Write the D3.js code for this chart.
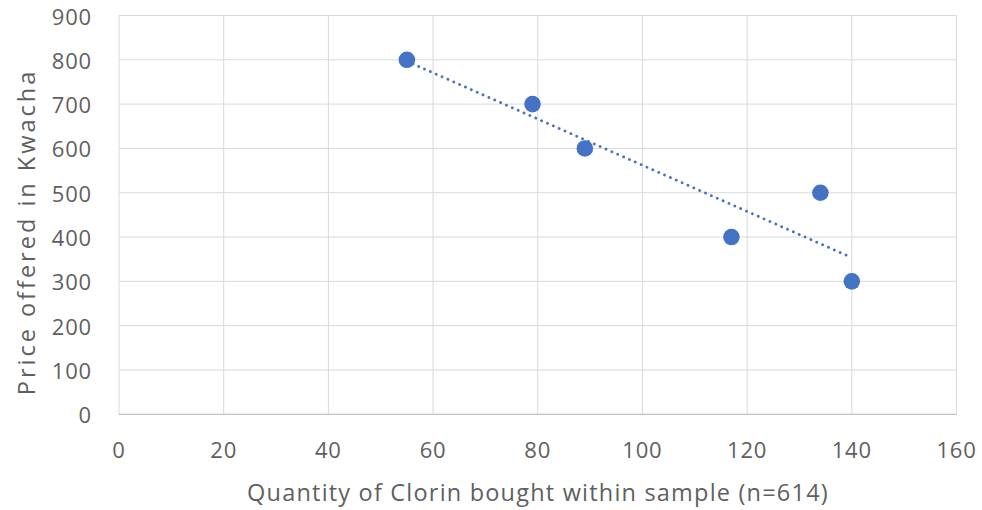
<!DOCTYPE html>
<html><head><meta charset="utf-8">
<script src="https://cdn.jsdelivr.net/npm/d3@7"></script>
<style>body{margin:0;background:#fff;} text{font-family:"Open Sans","Segoe UI",sans-serif;fill:#5f5f5f;}</style>
</head><body><svg id="c" width="982" height="510"></svg>
<script>
const quantity = [55, 79, 89, 117, 134, 140];
const price = [800, 700, 600, 400, 500, 300];
const xTicks = [0, 20, 40, 60, 80, 100, 120, 140, 160];
const yTicks = [0, 100, 200, 300, 400, 500, 600, 700, 800, 900];
const xTitle = "Quantity of Clorin bought within sample (n=614)";
const yTitle = "Price offered in Kwacha";

const svg = d3.select("#c");
const L = 119, R = 956.5, T = 15.5, B = 414.3;
const x = d3.scaleLinear().domain([0, 160]).range([L, R]);
const y = d3.scaleLinear().domain([0, 900]).range([B, T]);

const grid = svg.append("g");
grid.selectAll(".vx").data(xTicks).join("line")
  .attr("x1", d => x(d)).attr("x2", d => x(d)).attr("y1", T).attr("y2", B)
  .attr("stroke", "#d9d9d9").attr("stroke-width", 1);
grid.selectAll(".hy").data(yTicks).join("line")
  .attr("y1", d => y(d)).attr("y2", d => y(d)).attr("x1", L).attr("x2", R)
  .attr("stroke", "#d9d9d9").attr("stroke-width", 1);
svg.append("line").attr("x1", L).attr("x2", R).attr("y1", B).attr("y2", B).attr("stroke", "#bfbfbf");

svg.selectAll(".xl").data(xTicks).join("text")
  .attr("x", d => x(d)).attr("y", 458).attr("text-anchor", "middle")
  .attr("font-size", 22).attr("letter-spacing", 0.8).text(d => d);
svg.selectAll(".yl").data(yTicks).join("text")
  .attr("x", 92).attr("y", d => y(d) + 9).attr("text-anchor", "end")
  .attr("font-size", 22).attr("letter-spacing", 0.8).text(d => d);

svg.append("text").attr("x", 538).attr("y", 501).attr("text-anchor", "middle")
  .attr("font-size", 23.5).attr("letter-spacing", 1.2).text(xTitle);
svg.append("text").attr("transform", `translate(35,232) rotate(-90)`)
  .attr("text-anchor", "middle").attr("font-size", 23.5).attr("letter-spacing", 3).text(yTitle);

// linear trendline (least squares)
const mx = d3.mean(quantity), my = d3.mean(price);
const slope = d3.sum(quantity, (q, i) => (q - mx) * (price[i] - my)) / d3.sum(quantity, q => (q - mx) ** 2);
const icpt = my - slope * mx;
const x0 = d3.min(quantity), x1 = d3.max(quantity);
svg.append("line")
  .attr("x1", x(x0)).attr("y1", y(icpt + slope * x0))
  .attr("x2", x(x1)).attr("y2", y(icpt + slope * x1))
  .attr("stroke", "#4a72c0").attr("stroke-width", 2.8)
  .attr("stroke-dasharray", "0.1 6.3").attr("stroke-linecap", "round");

svg.selectAll(".pt").data(quantity).join("circle")
  .attr("cx", d => x(d)).attr("cy", (d, i) => y(price[i])).attr("r", 8.3)
  .attr("fill", "#4472c4");
</script></body></html>
